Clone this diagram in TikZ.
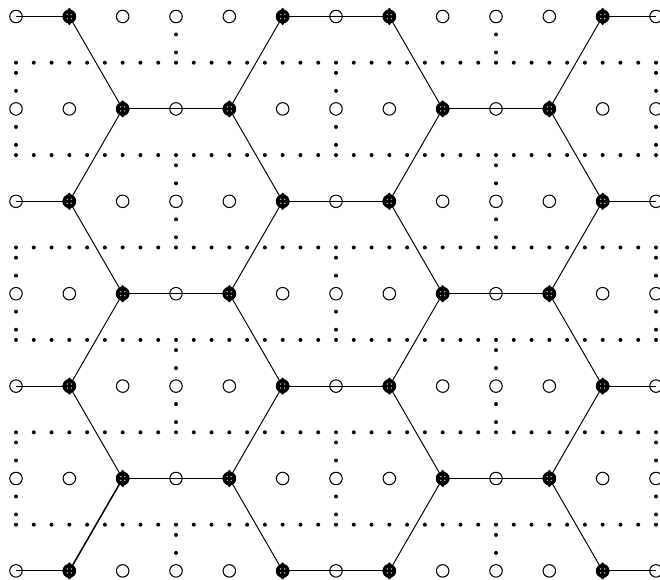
\documentclass[tikz,border=0pt]{standalone}
\usepackage{xcolor}
\usepackage{tikz}
\usetikzlibrary{calc}
\tikzset{
  site/.style={circle, draw=black, fill=white, line width=0.6pt, inner sep=0pt, minimum size=0.25cm},
  atom/.style={circle, draw=black, fill=black, line width=0.6pt, inner sep=0pt, minimum size=0.25cm},
  speck/.style={fill=black!35, circle, inner sep=0pt, minimum size=1pt},
  dotnode/.style={circle, fill=black, inner sep=0pt, minimum size=0.08cm},
  bond/.style={line width=0.55pt}
}
\begin{document}
\begin{tikzpicture}[x=0.02cm, y=-0.02cm]
    \useasboundingbox (0,0) rectangle (660,580);
    \pgfmathsetmacro{\dx}{160/3}
    \pgfmathsetmacro{\dy}{92.4}

    % Open sites
    \foreach \row in {0,...,6} {
        \foreach \col in {0,...,12} {
            \node[site] (s-\col-\row) at ({16+\col*\dx},{16.5+\row*\dy}) {};
        }
    }

    % Horizontal bonds
    \foreach \row in {0,2,4,6} {
        \draw[bond] (s-0-\row.center) -- (s-1-\row.center);
        \draw[bond] (s-5-\row.center) -- (s-7-\row.center);
        \draw[bond] (s-11-\row.center) -- (s-12-\row.center);
    }
    \foreach \row in {1,3,5} {
        \draw[bond] (s-2-\row.center) -- (s-4-\row.center);
        \draw[bond] (s-8-\row.center) -- (s-10-\row.center);
    }

    % Slanted bonds
    \foreach \row/\next in {0/1,2/1,2/3,4/3,4/5,6/5} {
        \draw[bond] (s-1-\row.center) -- (s-2-\next.center);
        \draw[bond] (s-5-\row.center) -- (s-4-\next.center);
        \draw[bond] (s-7-\row.center) -- (s-8-\next.center);
        \draw[bond] (s-11-\row.center) -- (s-10-\next.center);
    }
    \draw[bond, line width=0.8pt] (s-1-6.center) -- (s-2-5.center);

    % Filled sites
    \foreach \col/\row in {1/0,5/0,7/0,11/0,2/1,4/1,8/1,10/1,1/2,5/2,7/2,11/2,2/3,4/3,8/3,10/3,1/4,5/4,7/4,11/4,2/5,4/5,8/5,10/5,1/6,5/6,7/6,11/6} {
        \node[atom] (a-\col-\row) at (s-\col-\row.center) {};
        \fill (a-\col-\row.north) ++(-2.5,0.8) -- ++(2.5,-2.8) -- ++(2.5,2.8) -- cycle;
        \fill (a-\col-\row.south) ++(-2.5,-0.8) -- ++(2.5,2.8) -- ++(2.5,-2.8) -- cycle;
        \foreach \ang in {45,135,225,315} {
            \node[speck] at ($(a-\col-\row.center)+(\ang:2.8)$) {};
        }
    }

    % Dotted rows
    \foreach \row in {0,...,5} {
        \foreach \k in {0,...,36} {
            \node[dotnode] (d-\k-\row) at ({16+\k*\dx/3},{16.5+(\row+0.5)*\dy}) {};
        }
    }

    % Dotted columns
    \foreach \col/\row in {0/1,6/1,12/1,0/3,6/3,12/3,0/5,6/5,12/5,3/2,9/2,3/4,9/4} {
        \foreach \off in {-36,-18,18,36} {
            \node[dotnode] at ($(s-\col-\row.center)+(0,\off)$) {};
        }
    }
    \foreach \col in {3,9} {
        \node[dotnode] at ($(s-\col-0.center)+(0,18)$) {};
        \node[dotnode] at ($(s-\col-0.center)+(0,36)$) {};
        \node[dotnode] at ($(s-\col-6.center)+(0,-18)$) {};
        \node[dotnode] at ($(s-\col-6.center)+(0,-36)$) {};
    }
\end{tikzpicture}
\end{document}
